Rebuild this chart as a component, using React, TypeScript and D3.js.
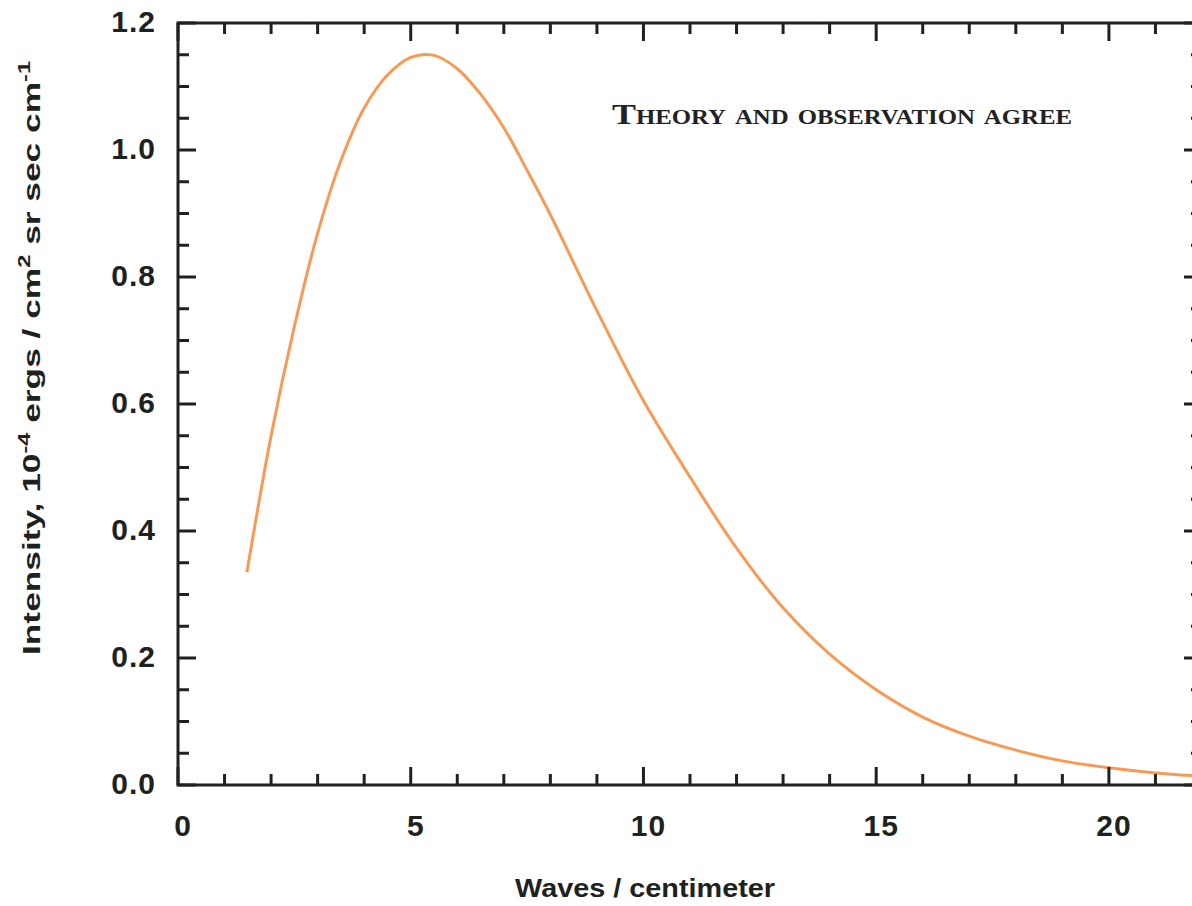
import * as d3 from "d3";

// wavenumber (waves / cm) and intensity (1e-4 erg / cm^2 sr sec cm^-1)
const waves = [1.48, 2.0, 2.5, 3.0, 3.5, 4.0, 4.5, 5.0, 5.5, 6.0, 6.5, 7.0, 7.5, 8.0, 9.0, 10.0, 11.0, 12.0, 13.0, 14.0, 15.0, 16.0, 17.0, 18.0, 19.0, 20.0, 21.0, 22.0];
const intensity = [0.335, 0.55, 0.722, 0.869, 0.983, 1.066, 1.118, 1.146, 1.149, 1.128, 1.088, 1.035, 0.968, 0.898, 0.747, 0.605, 0.485, 0.373, 0.279, 0.206, 0.15, 0.107, 0.077, 0.055, 0.038, 0.027, 0.019, 0.014];
const xLabels = [0, 5, 10, 15, 20];
const yLabels = [0, 0.2, 0.4, 0.6, 0.8, 1.0, 1.2];

const width = 1192;
const height = 906;
const marginLeft = 178;
const marginTop = 23;
const plotRight = 1202;
const plotBottom = 785;
const ink = "#1e221f";

export default function App() {
    const x = d3.scaleLinear([0, 22], [marginLeft, plotRight]);
    const y = d3.scaleLinear([0, 1.2], [plotBottom, marginTop]);
    const line = d3.line<number>((d, i) => x(waves[i]), (d) => y(d)).curve(d3.curveCatmullRom.alpha(0.5));
    const xMinor = d3.range(0, 23);
    const yMinor = d3.range(0, 25).map((i) => i * 0.05);
    const fmt = d3.format(".1f");

    return (
        <svg width={width} height={height} style={{ position: "absolute", left: 0, top: 0, background: "white" }}>
            <path d={line(intensity) ?? ""} fill="none" stroke="#f79a55" strokeWidth={3} strokeLinejoin="round" />

            <g stroke={ink} strokeWidth={3}>
                {xMinor.map((t) => {
                    const len = t % 5 === 0 ? 18 : 11;
                    return (
                        <g key={"x" + t}>
                            <line x1={x(t)} x2={x(t)} y1={plotBottom} y2={plotBottom - len} />
                            <line x1={x(t)} x2={x(t)} y1={marginTop} y2={marginTop + len} />
                        </g>
                    );
                })}
                {yMinor.map((t, i) => {
                    const len = i % 4 === 0 ? 18 : 11;
                    return (
                        <g key={"y" + i}>
                            <line x1={marginLeft} x2={marginLeft + len} y1={y(t)} y2={y(t)} />
                            <line x1={plotRight} x2={plotRight - len} y1={y(t)} y2={y(t)} />
                        </g>
                    );
                })}
                <rect x={marginLeft} y={marginTop} width={plotRight - marginLeft} height={plotBottom - marginTop} fill="none" />
            </g>

            <g fontFamily="Liberation Sans, Arial, sans-serif" fontWeight="bold" fontSize={30} fill={ink} letterSpacing={1}>
                {xLabels.map((t) => (
                    <text key={t} x={x(t) + 5} y={836} textAnchor="middle">{t}</text>
                ))}
                {yLabels.map((t) => (
                    <text key={t} x={156} y={y(t) - 2} dy="0.36em" textAnchor="end">{fmt(t)}</text>
                ))}
            </g>

            <text x={645} y={897} textAnchor="middle" fontFamily="Liberation Sans, Arial, sans-serif" fontWeight="bold" fontSize={25} fill={ink} textLength={260} lengthAdjust="spacingAndGlyphs">
                Waves / centimeter
            </text>

            <text transform="translate(40, 358) rotate(-90)" textAnchor="middle" fontFamily="Liberation Sans, Arial, sans-serif" fontWeight="bold" fontSize={24} fill={ink} textLength={594} lengthAdjust="spacingAndGlyphs">
                Intensity, 10<tspan fontSize={16} dy={-10}>-4</tspan><tspan dy={10}> ergs / cm</tspan><tspan fontSize={16} dy={-10}>2</tspan><tspan dy={10}> sr sec cm</tspan><tspan fontSize={16} dy={-10}>-1</tspan>
            </text>

            <text x={612} y={124} fontFamily="Liberation Serif, Times New Roman, serif" fontWeight="bold" fontSize={29} fill="#222" style={{ fontVariant: "small-caps" }} textLength={460} lengthAdjust="spacingAndGlyphs">
                Theory and observation agree
            </text>
        </svg>
    );
}
